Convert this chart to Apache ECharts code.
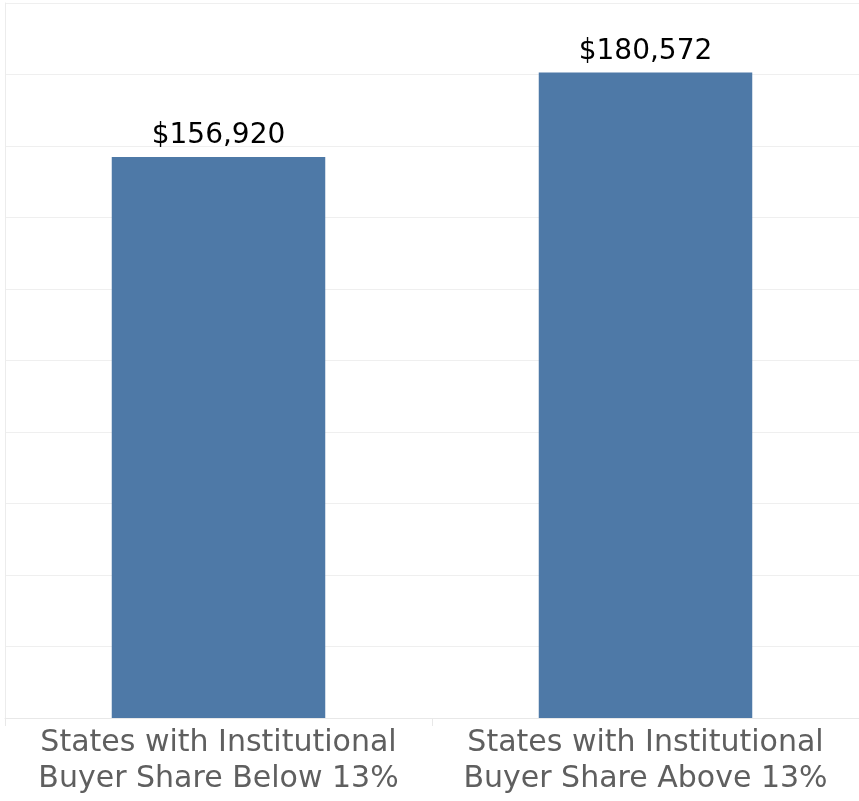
<!DOCTYPE html>
<html>
<head>
<meta charset="utf-8">
<script src="https://cdn.jsdelivr.net/npm/echarts@6/dist/echarts.min.js"></script>
<style>
    html, body { margin: 0; padding: 0; background: #fff; }
    #chart { width: 859px; height: 801px; }
</style>
</head>
<body>
<div id="chart"></div>
<script>
    var categories = [
        "States with Institutional\nBuyer Share Below 13%",
        "States with Institutional\nBuyer Share Above 13%"
    ]

    var medianPrice = [156920, 180572]

    var chart = echarts.init(document.getElementById('chart'))

    var option = {
        animation: false,
        grid: {
            left: 5,
            right: 0,
            top: 3,
            bottom: 83
        },
        xAxis: {
            type: 'category',
            data: categories,
            axisLine: { lineStyle: { color: '#e8e8e8' } },
            axisTick: { show: true, length: 8, lineStyle: { color: '#e8e8e8' } },
            axisLabel: {
                interval: 0,
                color: '#5f5f5f',
                fontFamily: 'DejaVu Sans',
                fontSize: 30,
                lineHeight: 36,
                margin: 7
            }
        },
        yAxis: {
            type: 'value',
            min: 0,
            max: 200000,
            interval: 20000,
            axisLine: { show: true, lineStyle: { color: '#ececec' } },
            axisTick: { show: false },
            axisLabel: { show: false },
            splitLine: { lineStyle: { color: '#efefef' } }
        },
        series: [{
            type: 'bar',
            data: medianPrice,
            barWidth: '50%',
            itemStyle: { color: '#4e79a7' },
            label: {
                show: true,
                position: 'top',
                distance: 7,
                color: '#000',
                fontFamily: 'DejaVu Sans',
                fontSize: 28,
                formatter: function (p) {
                    return '$' + p.value.toLocaleString('en-US')
                }
            }
        }]
    }

    chart.setOption(option)
</script>
</body>
</html>
